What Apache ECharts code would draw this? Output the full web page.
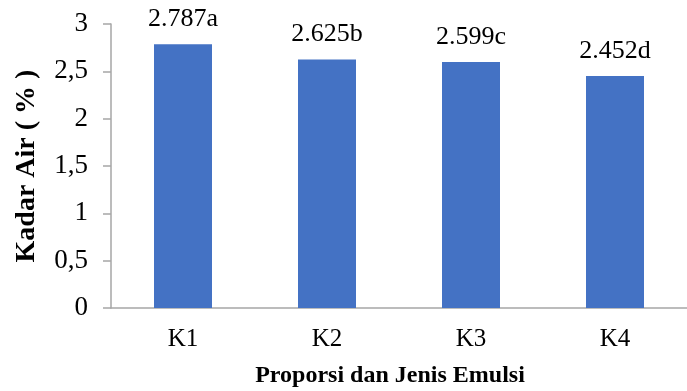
<!DOCTYPE html>
<html>
<head>
<meta charset="utf-8">
<script src="https://cdn.jsdelivr.net/npm/echarts@6/dist/echarts.min.js"></script>
<style>
  html, body { margin: 0; padding: 0; background: #fff; }
  #chart { width: 687px; height: 391px; }
</style>
</head>
<body>
<div id="chart"></div>
<script>
// Moisture content (Kadar Air, %) per emulsion treatment
const categories = ['K1', 'K2', 'K3', 'K4'];
const values = [2.787, 2.625, 2.599, 2.452];
const letters = ['a', 'b', 'c', 'd'];
const yTicks = { min: 0, max: 3, interval: 0.5 };

const serif = '"Liberation Serif", "Times New Roman", serif';

const chart = echarts.init(document.getElementById('chart'));
chart.setOption({
  animation: false,
  grid: {
    left: 111, right: 0, top: 24, bottom: 83,
    containLabel: false,
    outerBoundsMode: 'none'
  },
  xAxis: {
    type: 'category',
    data: categories,
    name: 'Proporsi dan Jenis Emulsi',
    nameLocation: 'middle',
    nameGap: 56,
    nameTextStyle: {
      fontFamily: serif, fontSize: 24, fontWeight: 'bold', color: '#000',
      padding: [0, 18, 0, 0]
    },
    axisLine: { lineStyle: { color: '#a6a6a6', width: 1.5 } },
    axisTick: { show: false },
    axisLabel: { fontFamily: serif, fontSize: 25, color: '#000', margin: 19 }
  },
  yAxis: {
    type: 'value',
    min: yTicks.min,
    max: yTicks.max,
    interval: yTicks.interval,
    name: 'Kadar Air ( % )',
    nameLocation: 'middle',
    nameGap: 70,
    nameTextStyle: { fontFamily: serif, fontSize: 28, fontWeight: 'bold', color: '#000' },
    axisLine: { show: true, lineStyle: { color: '#a6a6a6', width: 1.5 } },
    axisTick: { show: true, length: 8, lineStyle: { color: '#a6a6a6', width: 1.5 } },
    splitLine: { show: false },
    axisLabel: {
      fontFamily: serif, fontSize: 27, color: '#000', margin: 23,
      formatter: v => String(v).replace('.', ',')
    }
  },
  series: [{
    type: 'bar',
    data: values,
    barWidth: 58,
    itemStyle: { color: '#4472C4' },
    label: {
      show: true,
      position: 'top',
      distance: 12,
      fontFamily: serif,
      fontSize: 26,
      color: '#000',
      formatter: p => values[p.dataIndex].toFixed(3) + letters[p.dataIndex]
    }
  }]
});
</script>
</body>
</html>
